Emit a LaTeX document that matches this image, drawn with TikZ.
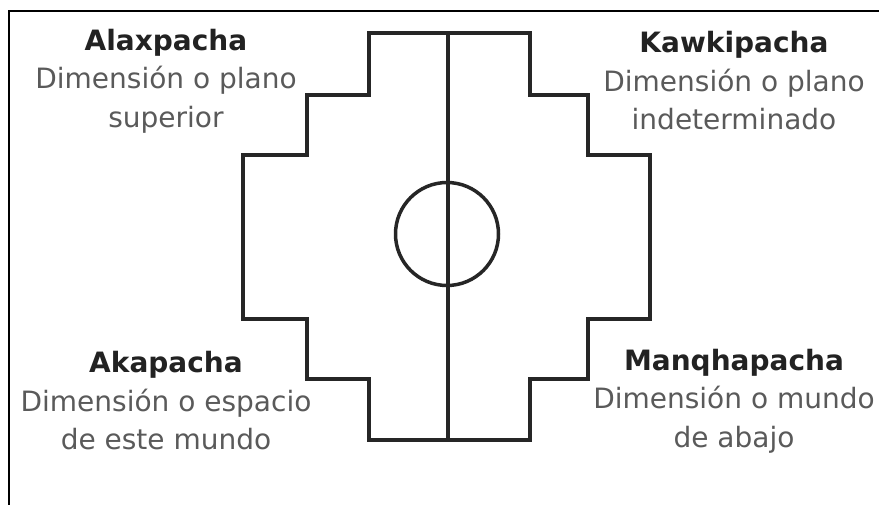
\documentclass[tikz,border=0pt]{standalone}
\usepackage{fontspec}
\setmainfont{DejaVu Sans}
\definecolor{txtgray}{HTML}{5A5A5A}
\definecolor{ttlblack}{HTML}{222222}
\tikzset{
  chak/.style={line width=3.5pt, draw=black!85, line join=miter},
  frameline/.style={line width=2pt, draw=black},
  lbl/.style={align=center, inner sep=0pt, text=txtgray, font=\fontsize{28}{38.5}\selectfont},
}
\newcommand{\ttl}[1]{{\color{ttlblack}\bfseries #1}}
\begin{document}
\begin{tikzpicture}[x=1pt,y=-1pt]
\useasboundingbox (0,0) rectangle (879,505);
\fill[white] (0,0) rectangle (879,505);
% frame (cropped: only left and top edges visible)
\coordinate (fbl) at (9,505);
\coordinate (ftl) at (9,11);
\coordinate (ftr) at (879,11);
\draw[frameline] (fbl) -- (ftl) -- (ftr);
% chakana outline
\draw[chak] (369,33) -- (530,33) -- (530,95) -- (588,95) -- (588,155) -- (650,155)
  -- (650,319) -- (588,319) -- (588,379) -- (530,379) -- (530,440) -- (369,440)
  -- (369,379) -- (307,379) -- (307,319) -- (243,319) -- (243,155) -- (307,155)
  -- (307,95) -- (369,95) -- cycle;
% central axis
\coordinate (axtop) at (448,33);
\coordinate (axbot) at (448,440);
\draw[chak] (axtop) -- (axbot);
% circle
\node[circle, draw=black!85, line width=3.5pt, minimum size=103pt, inner sep=0pt] (circ) at (447,234) {};
% labels
\node[lbl] (alax) at (166,81) {\ttl{Alaxpacha}\\Dimensión o plano\\superior};
\node[lbl] (kawk) at (734,81) {\ttl{Kawkipacha}\\Dimensión o plano\\indeterminado};
\node[lbl] (akap) at (166,401) {\ttl{Akapacha}\\Dimensión o espacio\\de este mundo};
\node[lbl] (manq) at (734,401) {\ttl{Manqhapacha}\\Dimensión o mundo\\de abajo};
\end{tikzpicture}
\end{document}
